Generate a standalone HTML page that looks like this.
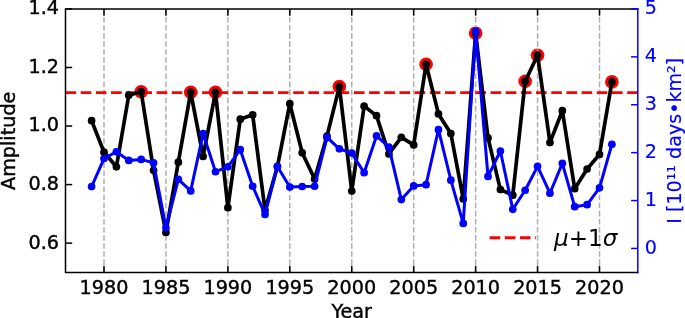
<!DOCTYPE html>
<html lang="en"><head><meta charset="utf-8"><title>Amplitude vs Year</title>
<style>html,body{margin:0;padding:0;background:#fff}body{width:685px;height:318px;overflow:hidden}svg{display:block}text{font-family:'DejaVu Sans','Liberation Sans',sans-serif}.k text,text.k{stroke:#000;stroke-width:0.4px}.b text,text.b{stroke:#0000ff;stroke-width:0.15px}</style></head><body>
<svg width="685" height="318" viewBox="0 0 685 318">
<rect width="685" height="318" fill="#fff"/>
<g fill="#ff0000"><circle cx="141.16" cy="91.71" r="6.8"/><circle cx="190.71" cy="92.30" r="6.8"/><circle cx="215.49" cy="92.30" r="6.8"/><circle cx="339.36" cy="86.60" r="6.8"/><circle cx="426.07" cy="64.25" r="6.8"/><circle cx="475.62" cy="33.18" r="6.8"/><circle cx="525.17" cy="81.19" r="6.8"/><circle cx="537.56" cy="55.19" r="6.8"/><circle cx="611.89" cy="81.89" r="6.8"/></g>
<g stroke="#b0b0b0" stroke-width="1.52" stroke-dasharray="5.64 2.44" fill="none"><line x1="104.00" y1="273.00" x2="104.00" y2="8.95"/><line x1="165.94" y1="273.00" x2="165.94" y2="8.95"/><line x1="227.88" y1="273.00" x2="227.88" y2="8.95"/><line x1="289.81" y1="273.00" x2="289.81" y2="8.95"/><line x1="351.75" y1="273.00" x2="351.75" y2="8.95"/><line x1="413.69" y1="273.00" x2="413.69" y2="8.95"/><line x1="475.62" y1="273.00" x2="475.62" y2="8.95"/><line x1="537.56" y1="273.00" x2="537.56" y2="8.95"/><line x1="599.50" y1="273.00" x2="599.50" y2="8.95"/></g>
<line x1="65.50" y1="92.65" x2="637.80" y2="92.65" stroke="#ff0000" stroke-width="2.86" stroke-dasharray="10.6 4.58"/>
<polyline points="91.61,120.64 104.00,152.20 116.39,166.81 128.78,95.22 141.16,91.71 153.55,170.31 165.94,232.41 178.32,162.13 190.71,92.30 203.10,156.43 215.49,92.30 227.88,207.72 240.26,119.18 252.65,114.80 265.04,210.35 277.42,166.52 289.81,103.69 302.20,152.78 314.59,179.08 326.98,136.13 339.36,86.60 351.75,191.06 364.14,106.15 376.52,115.67 388.91,153.95 401.30,137.30 413.69,144.89 426.07,64.25 438.46,113.92 450.85,133.50 463.24,198.95 475.62,33.18 488.01,137.88 500.40,189.60 512.79,195.15 525.17,81.19 537.56,55.19 549.95,142.56 562.34,110.71 574.72,188.72 587.11,169.00 599.50,154.39 611.89,81.89" fill="none" stroke="#000" stroke-width="3.7" stroke-linejoin="round" stroke-linecap="butt"/>
<g fill="#000"><circle cx="91.61" cy="120.64" r="3.85"/><circle cx="104.00" cy="152.20" r="3.85"/><circle cx="116.39" cy="166.81" r="3.85"/><circle cx="128.78" cy="95.22" r="3.85"/><circle cx="141.16" cy="91.71" r="3.85"/><circle cx="153.55" cy="170.31" r="3.85"/><circle cx="165.94" cy="232.41" r="3.85"/><circle cx="178.32" cy="162.13" r="3.85"/><circle cx="190.71" cy="92.30" r="3.85"/><circle cx="203.10" cy="156.43" r="3.85"/><circle cx="215.49" cy="92.30" r="3.85"/><circle cx="227.88" cy="207.72" r="3.85"/><circle cx="240.26" cy="119.18" r="3.85"/><circle cx="252.65" cy="114.80" r="3.85"/><circle cx="265.04" cy="210.35" r="3.85"/><circle cx="277.42" cy="166.52" r="3.85"/><circle cx="289.81" cy="103.69" r="3.85"/><circle cx="302.20" cy="152.78" r="3.85"/><circle cx="314.59" cy="179.08" r="3.85"/><circle cx="326.98" cy="136.13" r="3.85"/><circle cx="339.36" cy="86.60" r="3.85"/><circle cx="351.75" cy="191.06" r="3.85"/><circle cx="364.14" cy="106.15" r="3.85"/><circle cx="376.52" cy="115.67" r="3.85"/><circle cx="388.91" cy="153.95" r="3.85"/><circle cx="401.30" cy="137.30" r="3.85"/><circle cx="413.69" cy="144.89" r="3.85"/><circle cx="426.07" cy="64.25" r="3.85"/><circle cx="438.46" cy="113.92" r="3.85"/><circle cx="450.85" cy="133.50" r="3.85"/><circle cx="463.24" cy="198.95" r="3.85"/><circle cx="475.62" cy="33.18" r="3.85"/><circle cx="488.01" cy="137.88" r="3.85"/><circle cx="500.40" cy="189.60" r="3.85"/><circle cx="512.79" cy="195.15" r="3.85"/><circle cx="525.17" cy="81.19" r="3.85"/><circle cx="537.56" cy="55.19" r="3.85"/><circle cx="549.95" cy="142.56" r="3.85"/><circle cx="562.34" cy="110.71" r="3.85"/><circle cx="574.72" cy="188.72" r="3.85"/><circle cx="587.11" cy="169.00" r="3.85"/><circle cx="599.50" cy="154.39" r="3.85"/><circle cx="611.89" cy="81.89" r="3.85"/></g>
<polyline points="91.61,186.60 104.00,158.58 116.39,151.79 128.78,160.40 141.16,159.39 153.55,162.88 165.94,227.87 178.32,179.33 190.71,190.91 203.10,133.48 215.49,171.73 227.88,166.81 240.26,149.69 252.65,186.27 265.04,214.43 277.42,166.42 289.81,187.03 302.20,186.51 314.59,186.27 326.98,137.40 339.36,148.87 351.75,153.08 364.14,172.69 376.52,135.91 388.91,147.20 401.30,199.56 413.69,185.93 426.07,184.69 438.46,129.70 450.85,180.20 463.24,223.42 475.62,31.09 488.01,176.42 500.40,151.03 512.79,209.37 525.17,190.24 537.56,166.33 549.95,193.20 562.34,163.32 574.72,206.69 587.11,204.68 599.50,187.80 611.89,144.28" fill="none" stroke="#0000ff" stroke-width="3.0" stroke-linejoin="round"/>
<g fill="#0000ff"><circle cx="91.61" cy="186.60" r="3.85"/><circle cx="104.00" cy="158.58" r="3.85"/><circle cx="116.39" cy="151.79" r="3.85"/><circle cx="128.78" cy="160.40" r="3.85"/><circle cx="141.16" cy="159.39" r="3.85"/><circle cx="153.55" cy="162.88" r="3.85"/><circle cx="165.94" cy="227.87" r="3.85"/><circle cx="178.32" cy="179.33" r="3.85"/><circle cx="190.71" cy="190.91" r="3.85"/><circle cx="203.10" cy="133.48" r="3.85"/><circle cx="215.49" cy="171.73" r="3.85"/><circle cx="227.88" cy="166.81" r="3.85"/><circle cx="240.26" cy="149.69" r="3.85"/><circle cx="252.65" cy="186.27" r="3.85"/><circle cx="265.04" cy="214.43" r="3.85"/><circle cx="277.42" cy="166.42" r="3.85"/><circle cx="289.81" cy="187.03" r="3.85"/><circle cx="302.20" cy="186.51" r="3.85"/><circle cx="314.59" cy="186.27" r="3.85"/><circle cx="326.98" cy="137.40" r="3.85"/><circle cx="339.36" cy="148.87" r="3.85"/><circle cx="351.75" cy="153.08" r="3.85"/><circle cx="364.14" cy="172.69" r="3.85"/><circle cx="376.52" cy="135.91" r="3.85"/><circle cx="388.91" cy="147.20" r="3.85"/><circle cx="401.30" cy="199.56" r="3.85"/><circle cx="413.69" cy="185.93" r="3.85"/><circle cx="426.07" cy="184.69" r="3.85"/><circle cx="438.46" cy="129.70" r="3.85"/><circle cx="450.85" cy="180.20" r="3.85"/><circle cx="463.24" cy="223.42" r="3.85"/><circle cx="475.62" cy="31.09" r="3.85"/><circle cx="488.01" cy="176.42" r="3.85"/><circle cx="500.40" cy="151.03" r="3.85"/><circle cx="512.79" cy="209.37" r="3.85"/><circle cx="525.17" cy="190.24" r="3.85"/><circle cx="537.56" cy="166.33" r="3.85"/><circle cx="549.95" cy="193.20" r="3.85"/><circle cx="562.34" cy="163.32" r="3.85"/><circle cx="574.72" cy="206.69" r="3.85"/><circle cx="587.11" cy="204.68" r="3.85"/><circle cx="599.50" cy="187.80" r="3.85"/><circle cx="611.89" cy="144.28" r="3.85"/></g>
<g stroke="#000" stroke-width="1.5"><line x1="104.00" y1="272.40" x2="104.00" y2="265.70"/><line x1="104.00" y1="8.95" x2="104.00" y2="15.65"/><line x1="165.94" y1="272.40" x2="165.94" y2="265.70"/><line x1="165.94" y1="8.95" x2="165.94" y2="15.65"/><line x1="227.88" y1="272.40" x2="227.88" y2="265.70"/><line x1="227.88" y1="8.95" x2="227.88" y2="15.65"/><line x1="289.81" y1="272.40" x2="289.81" y2="265.70"/><line x1="289.81" y1="8.95" x2="289.81" y2="15.65"/><line x1="351.75" y1="272.40" x2="351.75" y2="265.70"/><line x1="351.75" y1="8.95" x2="351.75" y2="15.65"/><line x1="413.69" y1="272.40" x2="413.69" y2="265.70"/><line x1="413.69" y1="8.95" x2="413.69" y2="15.65"/><line x1="475.62" y1="272.40" x2="475.62" y2="265.70"/><line x1="475.62" y1="8.95" x2="475.62" y2="15.65"/><line x1="537.56" y1="272.40" x2="537.56" y2="265.70"/><line x1="537.56" y1="8.95" x2="537.56" y2="15.65"/><line x1="599.50" y1="272.40" x2="599.50" y2="265.70"/><line x1="599.50" y1="8.95" x2="599.50" y2="15.65"/><line x1="65.50" y1="243.13" x2="72.20" y2="243.13"/><line x1="65.50" y1="184.58" x2="72.20" y2="184.58"/><line x1="65.50" y1="126.04" x2="72.20" y2="126.04"/><line x1="65.50" y1="67.49" x2="72.20" y2="67.49"/><line x1="65.50" y1="8.95" x2="72.20" y2="8.95"/></g>
<path d="M65.50 8.95H637.80 M65.50 272.40H637.80 M65.50 8.95V272.40" stroke="#000" stroke-width="1.5" fill="none" stroke-linecap="square"/>
<g stroke="#0000ff" stroke-width="1.5"><line x1="637.80" y1="248.45" x2="631.10" y2="248.45"/><line x1="637.80" y1="200.55" x2="631.10" y2="200.55"/><line x1="637.80" y1="152.65" x2="631.10" y2="152.65"/><line x1="637.80" y1="104.75" x2="631.10" y2="104.75"/><line x1="637.80" y1="56.85" x2="631.10" y2="56.85"/><line x1="637.80" y1="8.95" x2="631.10" y2="8.95"/></g>
<path d="M637.80 8.95V272.40" stroke="#0000ff" stroke-width="1.5" fill="none" stroke-linecap="square"/>
<g class="k" font-size="19.20" fill="#000"><text x="104.00" y="293.5" text-anchor="middle">1980</text><text x="165.94" y="293.5" text-anchor="middle">1985</text><text x="227.88" y="293.5" text-anchor="middle">1990</text><text x="289.81" y="293.5" text-anchor="middle">1995</text><text x="351.75" y="293.5" text-anchor="middle">2000</text><text x="413.69" y="293.5" text-anchor="middle">2005</text><text x="475.62" y="293.5" text-anchor="middle">2010</text><text x="537.56" y="293.5" text-anchor="middle">2015</text><text x="599.50" y="293.5" text-anchor="middle">2020</text><text x="59.0" y="248.53" text-anchor="end">0.6</text><text x="59.0" y="189.98" text-anchor="end">0.8</text><text x="59.0" y="131.44" text-anchor="end">1.0</text><text x="59.0" y="72.89" text-anchor="end">1.2</text><text x="59.0" y="14.35" text-anchor="end">1.4</text></g>
<g class="b" font-size="19.20" fill="#0000ff"><text x="644.7" y="253.75">0</text><text x="644.7" y="205.85">1</text><text x="644.7" y="157.95">2</text><text x="644.7" y="110.05">3</text><text x="644.7" y="62.15">4</text><text x="644.7" y="14.25">5</text></g>
<text x="351.7" y="317.6" font-size="19.20" text-anchor="middle" fill="#000" class="k">Year</text>
<text transform="translate(15.1 140.8) rotate(-90)" font-size="19.20" text-anchor="middle" fill="#000" class="k">Amplitude</text>
<text transform="translate(680.6 140.8) rotate(-90)" font-size="19.1" text-anchor="middle" fill="#0000ff" class="b">I [10¹¹ days•km²]</text>
<line x1="489.6" y1="237.7" x2="535.9" y2="237.7" stroke="#ff0000" stroke-width="2.86" stroke-dasharray="10.6 4.58"/>
<text x="554.0" y="245.7" font-size="23.1" fill="#000"><tspan font-style="italic">μ</tspan>+1<tspan font-style="italic">σ</tspan></text>
</svg></body></html>
